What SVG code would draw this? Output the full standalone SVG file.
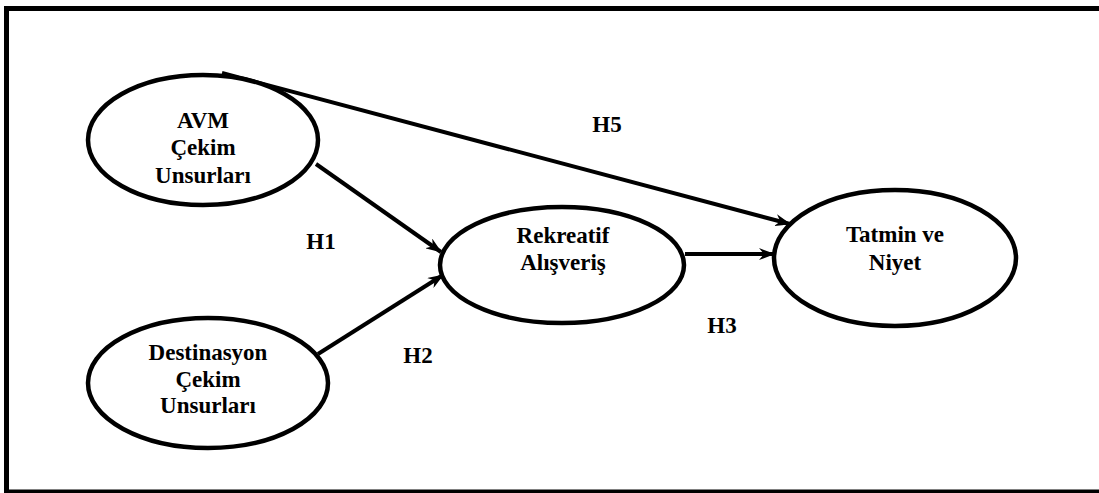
<svg xmlns="http://www.w3.org/2000/svg" width="1099" height="493" viewBox="0 0 1099 493">
  <defs>
    <marker id="arrow" viewBox="0 0 16 12" refX="15" refY="6" markerWidth="16" markerHeight="12" markerUnits="userSpaceOnUse" orient="auto">
      <path d="M0,0 L16,6 L0,12 L5,6 Z" fill="#000"/>
    </marker>
    <style>
      .node ellipse { fill: #fff; stroke: #000; stroke-width: 4.5; }
      text { font-family: "Liberation Serif", "Times New Roman", serif; font-weight: bold; font-size: 23px; fill: #000; text-anchor: middle; }
      .edge { stroke: #000; stroke-width: 4; fill: none; marker-end: url(#arrow); }
    </style>
  </defs>
  <rect width="1099" height="493" fill="#fff"/>
  <!-- outer frame -->
  <rect x="6.5" y="8.5" width="1100" height="483.5" fill="none" stroke="#000" stroke-width="5"/>

  <g id="connectors">
    <line class="edge" x1="222" y1="73" x2="790" y2="224"/>
    <line class="edge" x1="316" y1="164" x2="441" y2="252"/>
    <line class="edge" x1="318" y1="354" x2="443" y2="275"/>
    <line class="edge" x1="685" y1="254" x2="774" y2="254"/>
    <text x="607" y="132">H5</text>
    <text x="321" y="249">H1</text>
    <text x="418" y="363">H2</text>
    <text x="722" y="333">H3</text>
  </g>

  <g id="avm" class="node">
    <ellipse cx="203" cy="140" rx="115" ry="65"/>
    <text x="203" y="128">AVM</text>
    <text x="203" y="155">Çekim</text>
    <text x="203" y="183">Unsurları</text>
  </g>
  <g id="destinasyon" class="node">
    <ellipse cx="208" cy="383" rx="120" ry="65"/>
    <text x="208" y="360">Destinasyon</text>
    <text x="208" y="387">Çekim</text>
    <text x="208" y="413">Unsurları</text>
  </g>
  <g id="rekreatif" class="node">
    <ellipse cx="562" cy="265" rx="122" ry="58"/>
    <text x="563" y="243">Rekreatif</text>
    <text x="563" y="270">Alışveriş</text>
  </g>
  <g id="tatmin" class="node">
    <ellipse cx="895" cy="258" rx="121" ry="68"/>
    <text x="895" y="242">Tatmin ve</text>
    <text x="895" y="270">Niyet</text>
  </g>
</svg>
